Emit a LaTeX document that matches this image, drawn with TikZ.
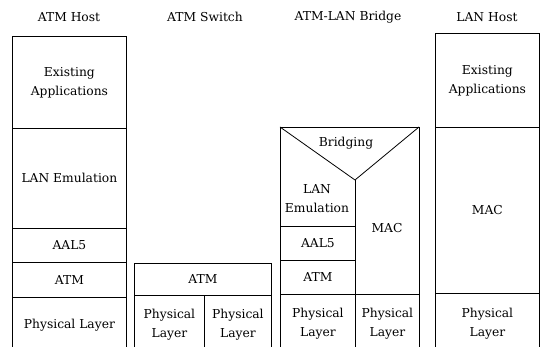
\documentclass[tikz,border=0pt]{standalone}
\usepackage{fontspec}
\setmainfont{DejaVu Serif}
\usepackage{tikz}

\tikzset{
  layer/.style={draw,line width=0.8pt,inner sep=0pt,anchor=north west,align=center},
  title/.style={inner sep=1pt,align=center}
}

\begin{document}
\begin{tikzpicture}[x=1pt,y=-1pt,font=\fontsize{12.3}{19}\selectfont]
\useasboundingbox (0,0) rectangle (542,347);
\clip (0,0) rectangle (542,347);
\node[title] (thost) at (69,17) {ATM Host};
\node[title] (tswitch) at (205,17) {ATM Switch};
\node[title] (tbridge) at (348,17) {ATM-LAN Bridge};
\node[title] (tlan) at (487,17) {LAN Host};
\node[layer,minimum width=114pt,minimum height=92pt] (happs) at (12,36) {Existing\\Applications};
\node[layer,minimum width=114pt,minimum height=100pt] (hlane) at (12,128) {LAN Emulation};
\node[layer,minimum width=114pt,minimum height=34pt] (haal) at (12,228) {AAL5};
\node[layer,minimum width=114pt,minimum height=35pt] (hatm) at (12,262) {ATM};
\node[layer,minimum width=114pt,minimum height=56pt] (hphy) at (12,297) {Physical Layer};
\node[layer,minimum width=137pt,minimum height=32pt] (satm) at (134,263) {ATM};
\node[layer,minimum width=70pt,minimum height=58pt] (sphya) at (134,295) {Physical\\Layer};
\node[layer,minimum width=67pt,minimum height=58pt] (sphyb) at (204,295) {Physical\\Layer};
\coordinate (apex) at (355,180);
\coordinate (bnw) at (280,127);
\coordinate (bne) at (419,127);
\draw[line width=0.8pt] (280,353) -- (bnw) -- (bne) -- (419,353);
\draw[line width=0.8pt] (bnw) -- (apex) -- (bne);
\draw[line width=0.8pt] (apex) -- (355,226);
\node[title] (bbridge) at (346,143) {Bridging};
\node[title] (blane) at (317,199) {LAN\\Emulation};
\node[layer,minimum width=75pt,minimum height=34pt] (baal) at (280,226) {AAL5};
\node[layer,minimum width=75pt,minimum height=34pt] (batm) at (280,260) {ATM};
\node[layer,minimum width=75pt,minimum height=59pt] (bphya) at (280,294) {Physical\\Layer};
\node[layer,minimum width=64pt,minimum height=59pt] (bphyb) at (355,294) {Physical\\Layer};
\node[title] (bmac) at (387,228) {MAC};
\node[layer,minimum width=104pt,minimum height=94pt] (lapps) at (435,33) {Existing\\Applications};
\node[layer,minimum width=104pt,minimum height=166pt] (lmac) at (435,127) {MAC};
\node[layer,minimum width=104pt,minimum height=60pt] (lphy) at (435,293) {Physical\\Layer};
\end{tikzpicture}
\end{document}
